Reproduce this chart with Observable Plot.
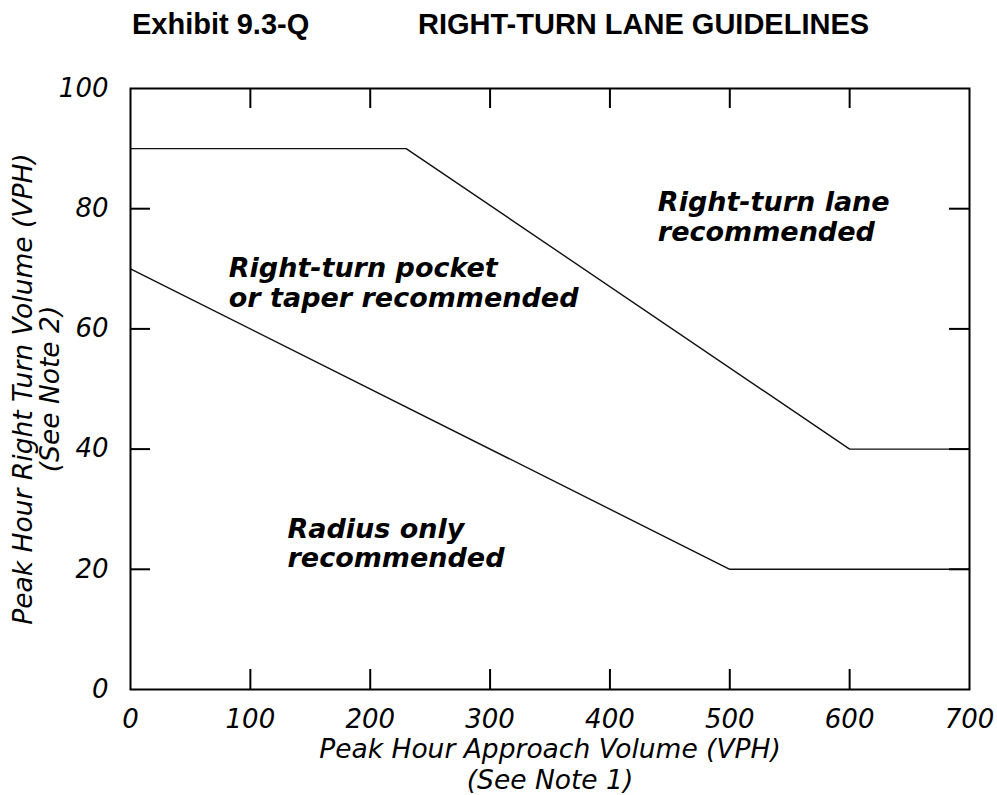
<!DOCTYPE html>
<html>
<head>
<meta charset="utf-8">
<script src="https://cdn.jsdelivr.net/npm/d3@7"></script>
<script src="https://cdn.jsdelivr.net/npm/@observablehq/plot@0.6"></script>
<style>
  body { margin: 0; background: #fff; }
  #title { position: relative; width: 997px; height: 50px; font: bold 29px "Liberation Sans", Arial, sans-serif; line-height: normal; color: #000; }
  #title span { position: absolute; top: 8px; white-space: nowrap; }
  #chart svg { display: block; }
</style>
</head>
<body>
<div id="title"><span style="left:132px">Exhibit 9.3-Q</span><span style="left:418px">RIGHT-TURN LANE GUIDELINES</span></div>
<div id="chart"></div>
<script>
// Boundary lines
const upperX = [0, 230, 600, 700];
const upperY = [90, 90, 40, 40];
const lowerX = [0, 500, 700];
const lowerY = [70, 20, 20];

// Ticks
const xTickLabels = [0, 100, 200, 300, 400, 500, 600, 700];
const yTickLabels = [0, 20, 40, 60, 80, 100];
const xInnerTicks = [100, 200, 300, 400, 500, 600];
const yInnerTicks = [20, 40, 60, 80];

// Region labels (data coordinates of the first line's top-left)
const labelText = ["Right-turn lane\nrecommended", "Right-turn pocket\nor taper recommended", "Radius only\nrecommended"];
const labelX = [440, 82, 131];
const labelY = [83, 72, 28.6];

const xTitle1 = "Peak Hour Approach Volume (VPH)";
const xTitle2 = "(See Note 1)";
const yTitle = "Peak Hour Right Turn Volume (VPH)\n(See Note 2)";

const upper = upperX.map((x, i) => ({x, y: upperY[i]}));
const lower = lowerX.map((x, i) => ({x, y: lowerY[i]}));
const labels = labelText.map((t, i) => ({t, x: labelX[i], y: labelY[i]}));

const W = 997, H = 745;
const mt = 38, mb = 106, ml = 130, mr = 28;
const innerH = H - mt - mb, innerW = W - ml - mr;

const titleFont = {fontSize: 26.5, fontStyle: "italic", fill: "#000", textAnchor: "middle", lineAnchor: "top"};

const chart = Plot.plot({
  width: W,
  height: H,
  marginTop: mt, marginBottom: mb, marginLeft: ml, marginRight: mr,
  style: { fontFamily: "DejaVu Sans", color: "#000", background: "#fff" },
  x: { domain: [0, 700] },
  y: { domain: [0, 100] },
  marks: [
    Plot.line(upper, {x: "x", y: "y", stroke: "#111", strokeWidth: 1.4}),
    Plot.line(lower, {x: "x", y: "y", stroke: "#111", strokeWidth: 1.4}),
    Plot.ruleX(xInnerTicks, {x: d => d, insetTop: innerH - 20, stroke: "#000", strokeWidth: 2}),
    Plot.ruleX(xInnerTicks, {x: d => d, insetBottom: innerH - 20, stroke: "#000", strokeWidth: 2}),
    Plot.ruleY(yInnerTicks, {y: d => d, insetRight: innerW - 20, stroke: "#000", strokeWidth: 2}),
    Plot.ruleY(yInnerTicks, {y: d => d, insetLeft: innerW - 20, stroke: "#000", strokeWidth: 2}),
    Plot.frame({stroke: "#000", strokeWidth: 2}),
    Plot.axisX({ticks: xTickLabels, tickSize: 0, tickPadding: 20, fontSize: 26, fontStyle: "italic", label: null, tickFormat: d => String(d)}),
    Plot.axisY({ticks: yTickLabels, tickSize: 0, tickPadding: 22, fontSize: 26, fontStyle: "italic", label: null, tickFormat: d => String(d)}),
    Plot.text(labels, {x: "x", y: "y", text: "t", textAnchor: "start", lineAnchor: "top", lineHeight: 1.08, fontSize: 27, fontWeight: "bold", fontStyle: "italic", fill: "#000"}),
    Plot.text([xTitle1], {text: d => d, frameAnchor: "bottom", dy: 50, ...titleFont}),
    Plot.text([xTitle2], {text: d => d, frameAnchor: "bottom", dy: 81, ...titleFont}),
    Plot.text([yTitle], {text: d => d, frameAnchor: "left", dx: -117, rotate: -90, lineHeight: 1.0, ...titleFont})
  ]
});
document.getElementById("chart").appendChild(chart);
</script>
</body>
</html>
